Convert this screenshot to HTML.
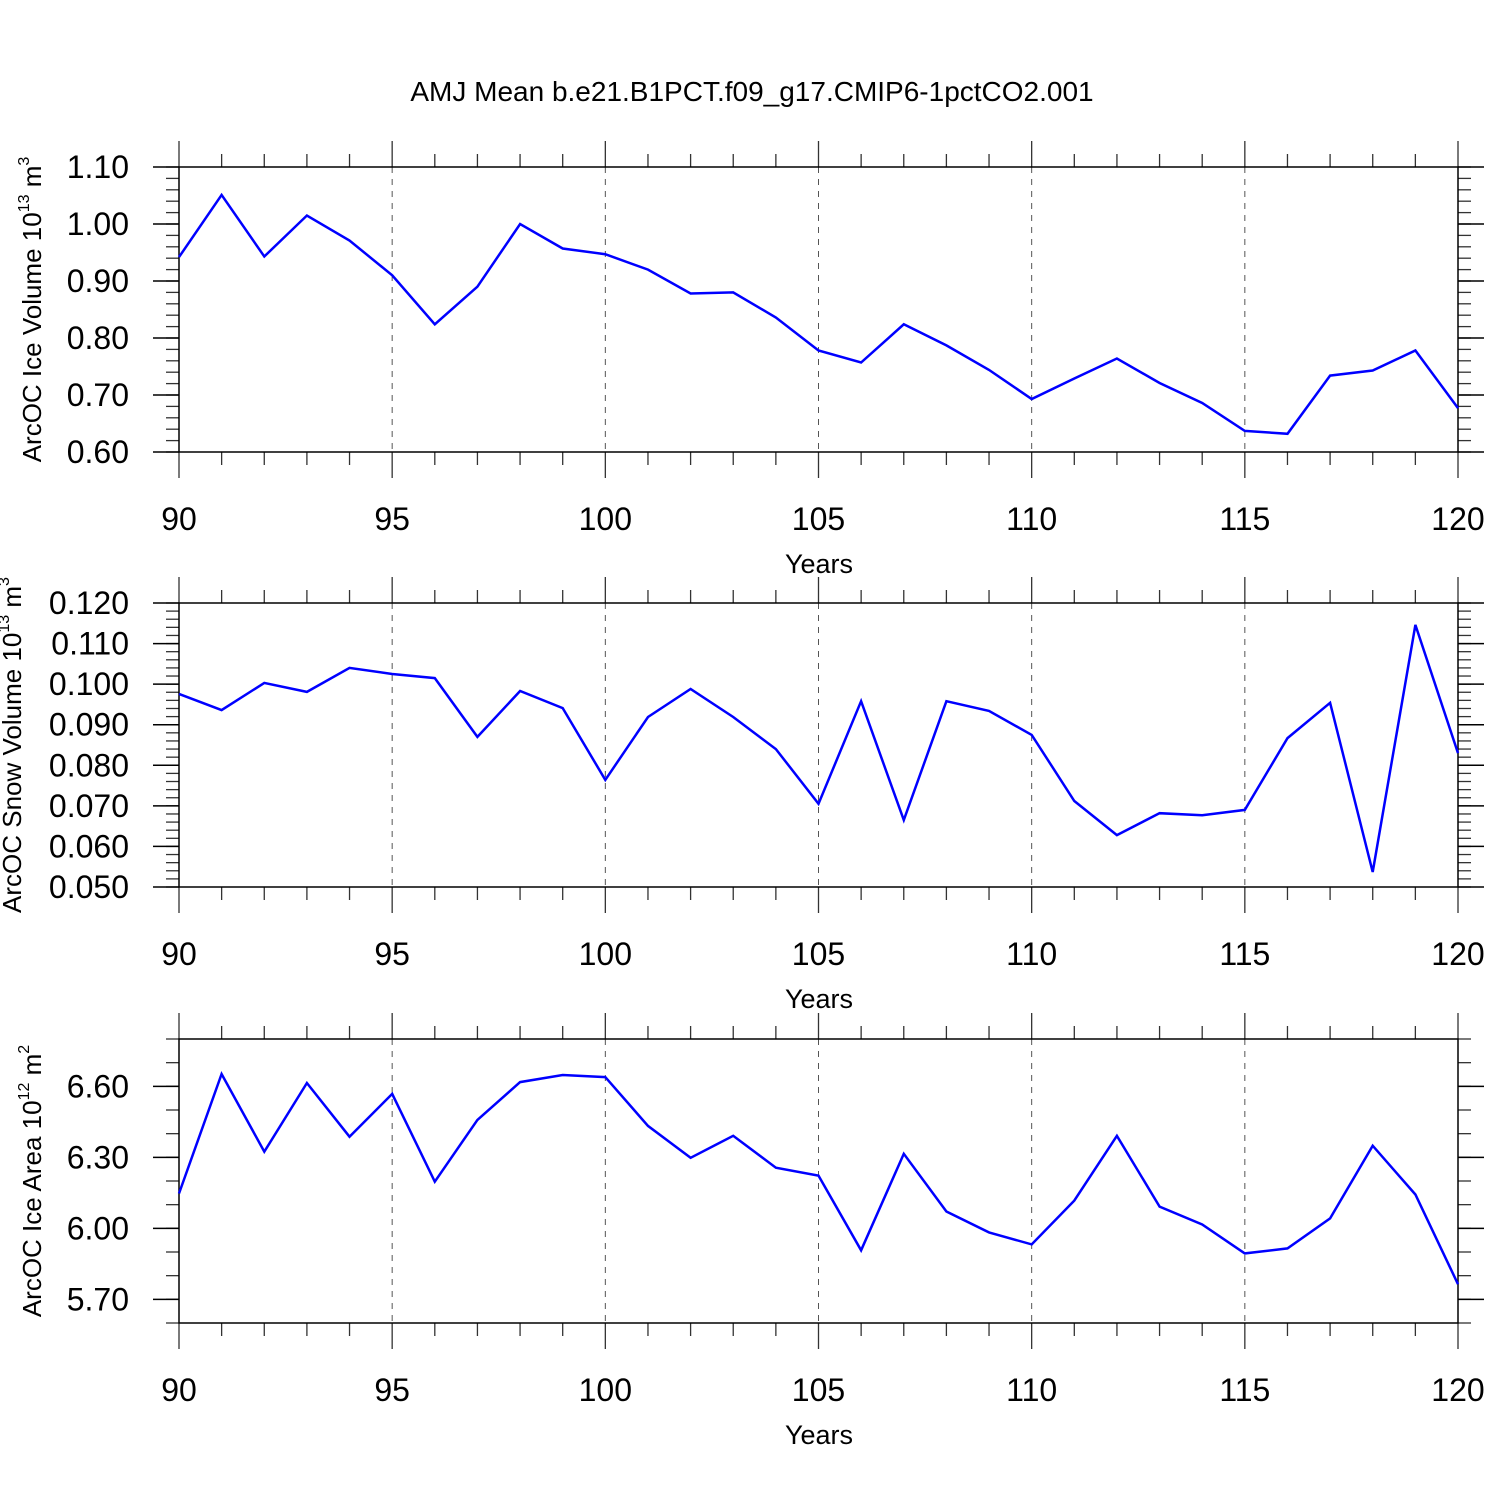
<!DOCTYPE html>
<html><head><meta charset="utf-8"><style>
body{margin:0;background:#fff}
svg text{font-family:"Liberation Sans",sans-serif;fill:#000}
</style></head><body>
<svg id="chart" width="1500" height="1500" xmlns="http://www.w3.org/2000/svg">
<text x="752" y="101" font-size="28" text-anchor="middle">AMJ Mean b.e21.B1PCT.f09_g17.CMIP6-1pctCO2.001</text>
</svg>
<script>
const years = [90,91,92,93,94,95,96,97,98,99,100,101,102,103,104,105,106,107,108,109,110,111,112,113,114,115,116,117,118,119,120];
const iceVolume = [0.942,1.051,0.943,1.015,0.971,0.910,0.824,0.890,1.000,0.957,0.947,0.920,0.878,0.880,0.836,0.778,0.757,0.824,0.787,0.744,0.693,0.729,0.764,0.721,0.686,0.637,0.632,0.734,0.743,0.778,0.677];
const snowVolume = [0.0976,0.0936,0.1003,0.0981,0.1040,0.1025,0.1015,0.0870,0.0983,0.0941,0.0764,0.0919,0.0988,0.0919,0.0840,0.0705,0.0958,0.0665,0.0958,0.0934,0.0875,0.0712,0.0628,0.0682,0.0677,0.0690,0.0867,0.0954,0.0537,0.1146,0.0830];
const iceArea = [6.147,6.652,6.324,6.614,6.387,6.568,6.197,6.458,6.618,6.648,6.639,6.433,6.298,6.391,6.256,6.223,5.907,6.315,6.071,5.983,5.932,6.117,6.391,6.092,6.016,5.894,5.915,6.042,6.349,6.143,5.764];
const xTickLabels = ["90","95","100","105","110","115","120"];
const iceVolTicks = ["1.10","1.00","0.90","0.80","0.70","0.60"];
const snowTicks = ["0.120","0.110","0.100","0.090","0.080","0.070","0.060","0.050"];
const areaTicks = ["6.60","6.30","6.00","5.70"];

const svg = document.getElementById('chart');
const NS = 'http://www.w3.org/2000/svg';
function mk(tag, attrs){const e=document.createElementNS(NS,tag);for(const k in attrs)e.setAttribute(k,attrs[k]);svg.appendChild(e);return e;}
const X0=179,X1=1458,xMin=90,xMax=120;
const xs = v => X0+(v-xMin)/(xMax-xMin)*(X1-X0);

const panels = [
 {name:'ice-volume',top:167,bot:452,min:0.6,max:1.1,ticks:iceVolTicks,minor:0.02,data:iceVolume,title:'ArcOC Ice Volume 10',exp:'13',unit:' m',uexp:'3',tx:41},
 {name:'snow-volume',top:603,bot:887,min:0.05,max:0.12,ticks:snowTicks,minor:0.002,data:snowVolume,title:'ArcOC Snow Volume 10',exp:'13',unit:' m',uexp:'3',tx:21},
 {name:'ice-area',top:1039,bot:1323,min:5.6,max:6.8,ticks:areaTicks,minor:0.1,data:iceArea,title:'ArcOC Ice Area 10',exp:'12',unit:' m',uexp:'2',tx:41}
];
panels.forEach(p=>{
  const ys = v => p.bot-(v-p.min)/(p.max-p.min)*(p.bot-p.top);
  // grid
  xTickLabels.forEach(t=>{const v=+t; if(v>xMin&&v<xMax){
    const l=mk('line',{x1:xs(v),x2:xs(v),y1:p.top,y2:p.bot,stroke:'#555','stroke-width':1,'stroke-dasharray':'6,6'});
    
    
  }});
  // x ticks top & bottom
  for(let v=xMin; v<=xMax; v++){
    const major = v%5===0; const len = major?26:13;
    const a=mk('line',{x1:xs(v),x2:xs(v),y1:p.top-len,y2:p.top,stroke:'#333','stroke-width':1.3});
    
    
    const b=mk('line',{x1:xs(v),x2:xs(v),y1:p.bot,y2:p.bot+len,stroke:'#333','stroke-width':1.3});
    
    
  }
  xTickLabels.forEach(t=>{
    const tx=mk('text',{x:xs(+t),y:p.bot+78,'font-size':32,'text-anchor':'middle'});
    tx.textContent=t;
    
    
  });
  const xt=mk('text',{x:819,y:p.bot+121,'font-size':27,'text-anchor':'middle'});
  xt.textContent='Years';
  
  
  // y minor ticks
  const n=Math.round((p.max-p.min)/p.minor);
  for(let i=0;i<=n;i++){
    const v=p.min+i*p.minor, y=ys(v);
    const l1=mk('line',{x1:X0-13,x2:X0,y1:y,y2:y,stroke:'#333','stroke-width':1.3});
    
    
    const l2=mk('line',{x1:X1,x2:X1+13,y1:y,y2:y,stroke:'#333','stroke-width':1.3});
    
    
  }
  p.ticks.forEach(t=>{
    const y=ys(+t);
    const l1=mk('line',{x1:X0-26,x2:X0,y1:y,y2:y,stroke:'#000','stroke-width':1.5});
    
    
    const l2=mk('line',{x1:X1,x2:X1+26,y1:y,y2:y,stroke:'#000','stroke-width':1.5});
    
    
    const tx=mk('text',{x:129,y:y+11,'font-size':32,'text-anchor':'end'});
    tx.textContent=t;
    
    
  });
  // frame
  const fr=mk('rect',{x:X0,y:p.top,width:X1-X0,height:p.bot-p.top,fill:'none',stroke:'#000','stroke-width':1.5});
  
  
  // line
  const pts=years.map((yr,i)=>xs(yr).toFixed(1)+','+ys(p.data[i]).toFixed(1)).join(' ');
  const pl=mk('polyline',{points:pts,fill:'none',stroke:'#0000ff','stroke-width':2.5,'stroke-linejoin':'miter'});
  
  
  // y title
  const cy=(p.top+p.bot)/2;
  const tt=mk('text',{x:0,y:0,'font-size':26,'text-anchor':'middle',transform:`translate(${p.tx},${cy}) rotate(-90)`});
  tt.innerHTML=`${p.title}<tspan dy="-12" font-size="16">${p.exp}</tspan><tspan dy="12">${p.unit}</tspan><tspan dy="-12" font-size="16">${p.uexp}</tspan>`;
  
  
});
</script>
</body></html>
